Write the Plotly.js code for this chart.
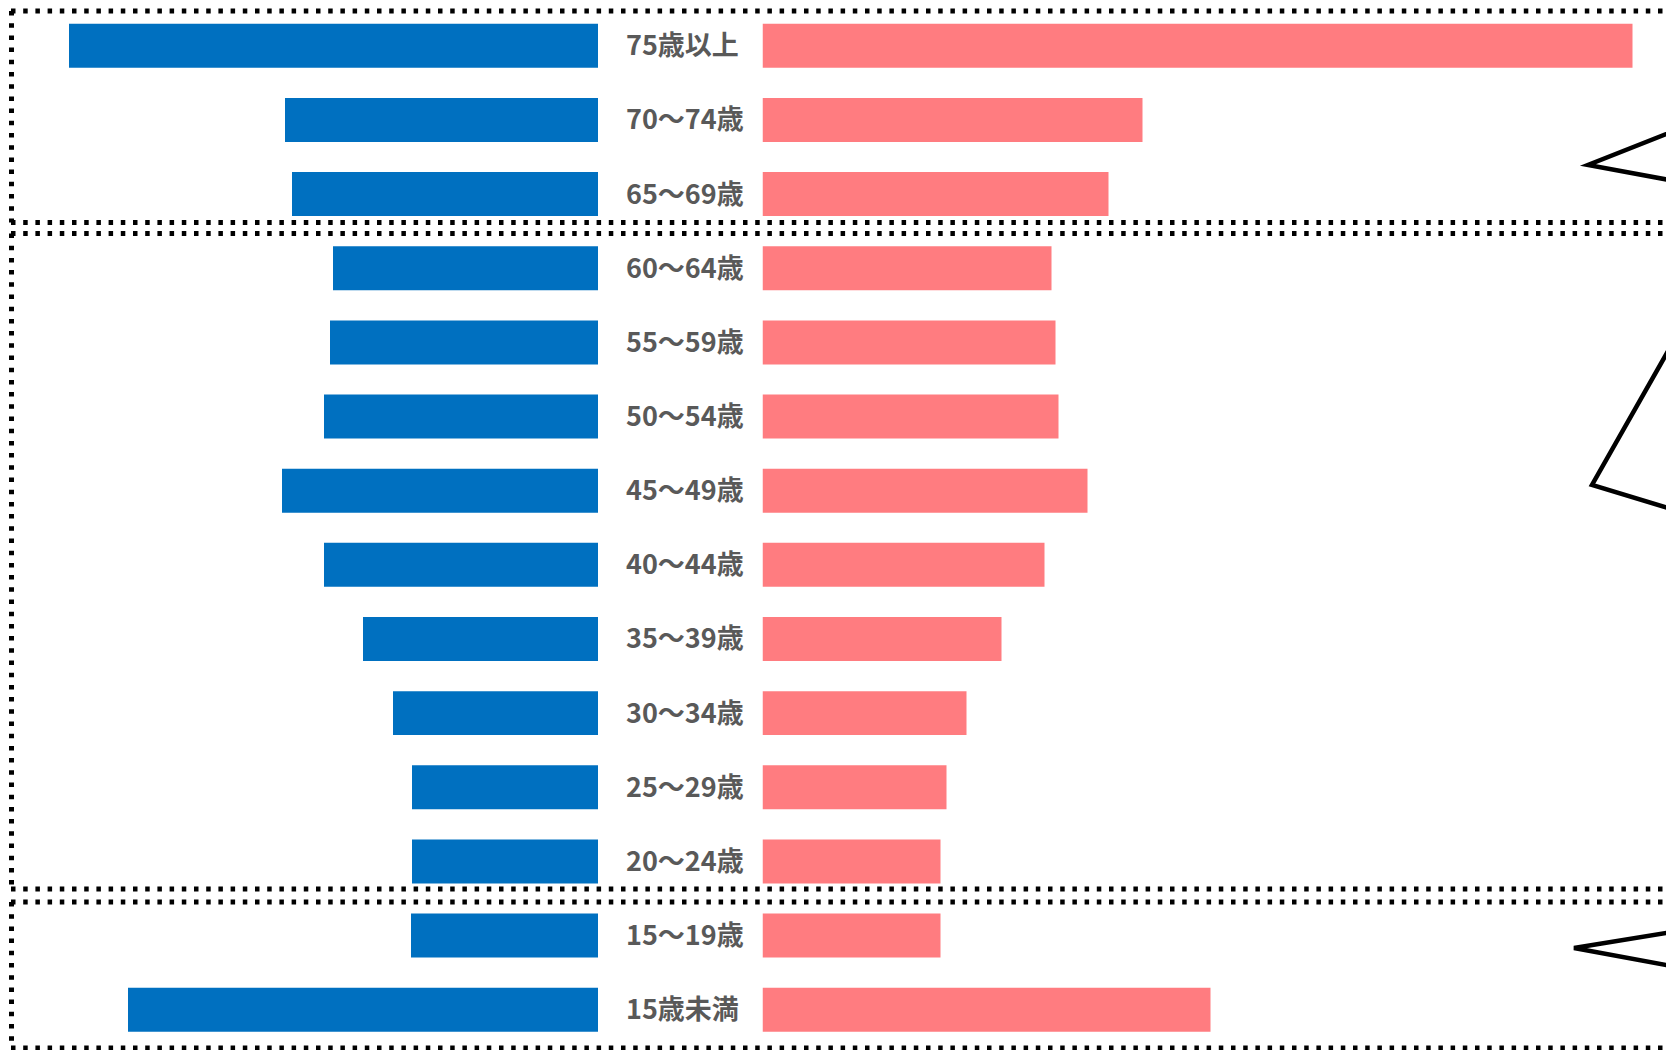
<!DOCTYPE html>
<html>
<head>
<meta charset="utf-8">
<script src="https://cdn.plot.ly/plotly-3.0.1.min.js"></script>
<style>
  html, body { margin: 0; padding: 0; background: #fff; }
  #chart { width: 1666px; height: 1050px; }
</style>
</head>
<body>
<div id="chart"></div>
<script>
// Age groups, bottom to top
const categories = ['15歳未満', '15～19歳', '20～24歳', '25～29歳', '30～34歳', '35～39歳', '40～44歳',
                    '45～49歳', '50～54歳', '55～59歳', '60～64歳', '65～69歳', '70～74歳', '75歳以上'];
// Left (blue) series, estimated relative values
const blueValues = [470, 187, 186, 186, 205, 235, 274, 316, 274, 268, 265, 306, 313, 529];
// Right (pink) series, estimated relative values
const pinkValues = [448, 178, 178, 184, 204, 239, 282, 325, 296, 293, 289, 346, 380, 870];

const W = 1666, H = 1050;
const px = x => x / W;
const py = y => 1 - y / H;

const traces = [
  {
    type: 'bar', orientation: 'h', y: categories, x: blueValues,
    xaxis: 'x', yaxis: 'y',
    marker: { color: '#0070C0', line: { width: 0 } },
    hoverinfo: 'x+y', showlegend: false
  },
  {
    type: 'bar', orientation: 'h', y: categories, x: pinkValues,
    xaxis: 'x2', yaxis: 'y',
    marker: { color: '#FF7C80', line: { width: 0 } },
    hoverinfo: 'x+y', showlegend: false
  }
];

const annotations = categories.map(c => ({
  text: c, x: px(624), xref: 'paper', xanchor: 'left',
  y: c, yref: 'y', yanchor: 'middle', yshift: 2, showarrow: false,
  font: { family: 'Noto Sans CJK JP, sans-serif', size: 27, color: '#595959', weight: 700 }
}));

const dot = { color: '#000', width: 5, dash: '4.5px,7.7px' };
function hline(y, x0, x1) {
  return { type: 'line', xref: 'paper', yref: 'paper', x0: px(x0), x1: px(x1), y0: py(y), y1: py(y), line: dot };
}
function vline(x, y0, y1) {
  return { type: 'line', xref: 'paper', yref: 'paper', x0: px(x), x1: px(x), y0: py(y0), y1: py(y1), line: dot };
}
function chevron(pts) {
  const d = pts.map((p, i) => (i ? 'L ' : 'M ') + px(p[0]) + ',' + py(p[1])).join(' ');
  return { type: 'path', xref: 'paper', yref: 'paper', path: d, line: { color: '#000', width: 4.5 }, fillcolor: 'rgba(0,0,0,0)' };
}

const shapes = [
  // top box
  hline(11, 11, 1670), vline(11.5, 11, 222.5), hline(222.5, 11, 1670),
  // middle box
  hline(233.5, 11, 1670), vline(11.5, 233.5, 889), hline(889, 11, 1670),
  // bottom box
  hline(902, 11, 1670), vline(11.5, 902, 1048), hline(1048, 11, 1670),
  // callout pointers on right edge
  chevron([[1680, 128.5], [1588, 165], [1680, 182]]),
  chevron([[1680, 330], [1592, 485], [1680, 511.5]]),
  chevron([[1680, 930.8], [1574, 948], [1680, 967.5]])
];

const layout = {
  width: W, height: H,
  margin: { l: 0, r: 0, t: 0, b: 0, pad: 0 },
  paper_bgcolor: '#ffffff', plot_bgcolor: '#ffffff',
  bargap: 0.407,
  showlegend: false,
  xaxis: { domain: [0, px(598)], range: [598, 0], visible: false, fixedrange: true },
  xaxis2: { domain: [px(762.5), 1], range: [0, W - 762.5], visible: false, fixedrange: true, anchor: 'y' },
  yaxis: { domain: [py(1046.8), py(8.73)], type: 'category', range: [-0.5, 13.5], visible: false, fixedrange: true },
  annotations: annotations,
  shapes: shapes
};

Plotly.newPlot('chart', traces, layout, { displayModeBar: false, staticPlot: true });
</script>
</body>
</html>
